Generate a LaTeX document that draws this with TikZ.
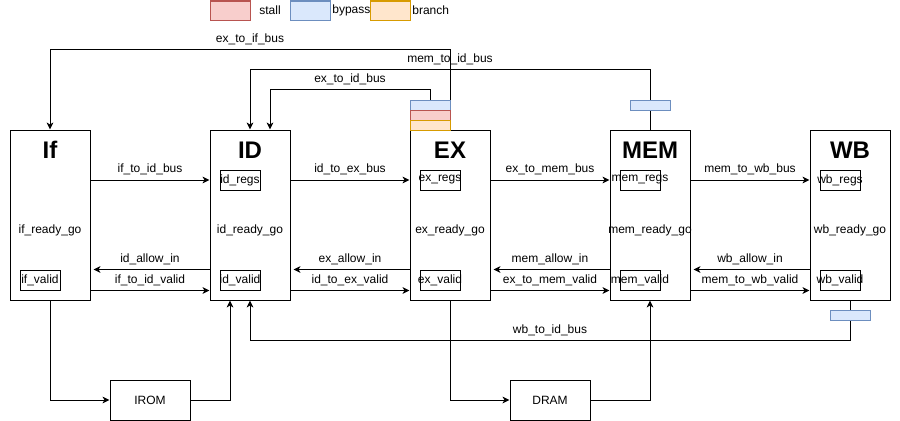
\documentclass[tikz,border=0pt]{standalone}
\usepackage{fontspec}
\setmainfont{Liberation Sans}
\usetikzlibrary{arrows.meta}
\usetikzlibrary{calc}

\definecolor{stallfill}{HTML}{F8CECC}
\definecolor{stallline}{HTML}{B85450}
\definecolor{bypassfill}{HTML}{DAE8FC}
\definecolor{bypassline}{HTML}{6C8EBF}
\definecolor{branchfill}{HTML}{FFE6CC}
\definecolor{branchline}{HTML}{D79B00}

\begin{document}
\begin{tikzpicture}[x=0.75pt,y=-0.75pt,>={Stealth[length=5.25pt,width=5pt,inset=1.5pt]},line width=0.75pt,
  font=\fontsize{9}{11}\selectfont,
  stage node/.style={draw,minimum width=60pt,minimum height=127.5pt,inner sep=0pt},
  title node/.style={font=\fontsize{18}{20}\selectfont\bfseries},
  reg node/.style={draw,minimum width=30pt,minimum height=15pt,inner sep=0pt},
  mem node/.style={draw,minimum width=60pt,minimum height=30pt,inner sep=0pt},
  tag node/.style={draw,minimum width=30pt,minimum height=7.5pt,inner sep=0pt},
  stall tag/.style={tag node,draw=stallline,fill=stallfill},
  bypass tag/.style={tag node,draw=bypassline,fill=bypassfill},
  branch tag/.style={tag node,draw=branchline,fill=branchfill}]
  \useasboundingbox (0,0) rectangle (900,421);

  % legend
  \node[stall tag,minimum height=14.25pt] (stall key) at (230,10.5) {};
  \node (stall text) at (270,10.5) {stall};
  \node[bypass tag,minimum height=14.25pt] (bypass key) at (310,10.5) {};
  \node[anchor=west,inner sep=1pt] (bypass text) at (bypass key.east) {bypass};
  \node[branch tag,minimum height=14.25pt] (branch key) at (390,10.5) {};
  \node[anchor=west,inner sep=1pt] (branch text) at (branch key.east) {branch};

  % pipeline stages
  \foreach \s/\t/\x in {if/If/50,id/ID/250,ex/EX/450,mem/MEM/650,wb/WB/850}{
    \node[stage node] (\s) at (\x,215) {};
    \node[title node] (\s title) at (\x,150) {\t};
    \node (\s rg) at (\x,230) {\s\_ready\_go};
    \node[reg node,label=center:\s\_valid] (\s valid) at (\x-10,280) {};
  }
  \foreach \s/\x in {id/250,ex/450,mem/650,wb/850}
    \node[reg node,label=center:\s\_regs] (\s regs) at (\x-10,180) {};

  % handshake between stages
  \foreach \a/\b in {if/id,id/ex,ex/mem,mem/wb}{
    \draw[->] (\a.east |- \b regs) -- node[above] {\a\_to\_\b\_bus} (\b.west |- \b regs);
    \draw[->,shorten >=2.25pt] (\b.west |- \b valid.north) -- node[above] {\b\_allow\_in} (\a.east |- \b valid.north);
    \draw[->] (\a.east |- \b valid.south) -- node[above] {\a\_to\_\b\_valid} (\b.west |- \b valid.south);
  }

  % memories
  \node[mem node] (irom) at (150,400) {IROM};
  \node[mem node] (dram) at (550,400) {DRAM};
  \draw[->] (if.south) |- (irom.west);
  \draw[->] (irom.east) -| ($(id.south)+(-20,0)$);
  \draw[->] (ex.south) |- (dram.west);
  \draw[->] (dram.east) -| (mem.south);

  % back buses
  \draw[->] (ex.north) -- ++(0,-80) -| node[pos=0.25,above] {ex\_to\_if\_bus} (if.north);
  \draw[->] (mem.north) -- ++(0,-60) -| node[pos=0.25,above] {mem\_to\_id\_bus} (id.north);
  \draw[->] (wb.south) -- ++(0,40) -| node[pos=0.25,above] {wb\_to\_id\_bus} (id.south);

  \node[bypass tag] (ex bypass) at (430,105) {};
  \node[stall tag] (ex stall) at (430,115) {};
  \node[branch tag] (ex branch) at (430,125) {};
  \node[bypass tag] (mem bypass) at (650,105) {};
  \node[bypass tag] (wb bypass) at (850,315) {};

  \draw[->] (ex bypass.north) -- ++(0,-10) -| node[pos=0.25,above] {ex\_to\_id\_bus} ($(id.north)+(20,0)$);
\end{tikzpicture}
\end{document}
